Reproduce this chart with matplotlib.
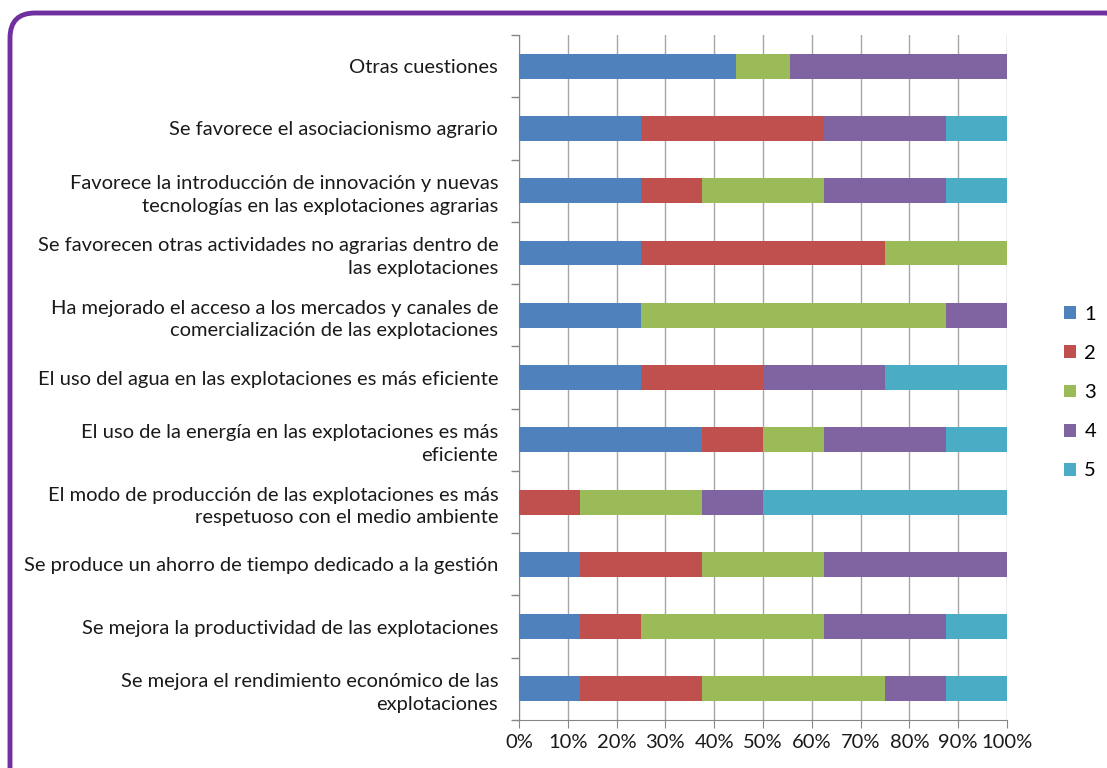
import matplotlib

matplotlib.use("Agg")

import matplotlib.pyplot as plt
from matplotlib.patches import FancyBboxPatch
from matplotlib.ticker import PercentFormatter, FixedLocator

plt.rcParams["font.family"] = ["Lato", "DejaVu Sans"]

# de abajo hacia arriba
categorias = [
    "Se mejora el rendimiento económico de las\nexplotaciones",
    "Se mejora la productividad de las explotaciones",
    "Se produce un ahorro de tiempo dedicado a la gestión",
    "El modo de producción de las explotaciones es más\nrespetuoso con el medio ambiente",
    "El uso de la energía en las explotaciones es más\neficiente",
    "El uso del agua en las explotaciones es más eficiente",
    "Ha mejorado el acceso a los mercados y canales de\ncomercialización de las explotaciones",
    "Se favorecen otras actividades no agrarias dentro de\nlas explotaciones",
    "Favorece la introducción de innovación y nuevas\ntecnologías en las explotaciones agrarias",
    "Se favorece el asociacionismo agrario",
    "Otras cuestiones",
]

# número de respuestas por valoración (1..5)
v1 = [1, 1, 1, 0, 3, 2, 2, 2, 2, 2, 4]
v2 = [2, 1, 2, 1, 1, 2, 0, 4, 1, 3, 0]
v3 = [3, 3, 2, 2, 1, 0, 5, 2, 2, 0, 1]
v4 = [1, 2, 3, 1, 2, 2, 1, 0, 2, 2, 4]
v5 = [1, 1, 0, 4, 1, 2, 0, 0, 1, 1, 0]

series = [v1, v2, v3, v4, v5]
nombres = ["1", "2", "3", "4", "5"]
colores = ["#4F81BD", "#C0504D", "#9BBB59", "#8064A2", "#4BACC6"]

totales = [sum(c) for c in zip(*series)]

fig = plt.figure(figsize=(11.07, 7.68), dpi=100)
ax = fig.add_axes([519 / 1107, 1 - 720 / 768, 488 / 1107, 685 / 768])

y = list(range(len(categorias)))
izq = [0.0] * len(categorias)
for vals, nombre, color in zip(series, nombres, colores):
    pct = [v / t * 100 for v, t in zip(vals, totales)]
    ax.barh(y, pct, left=izq, height=0.4, color=color, label=nombre, zorder=3)
    izq = [a + b for a, b in zip(izq, pct)]

ax.set_xlim(0, 100)
ax.set_ylim(-0.5, len(categorias) - 0.5)
ax.set_xticks(range(0, 101, 10))
ax.xaxis.set_major_formatter(PercentFormatter(decimals=0))
ax.set_yticks(y)
ax.set_yticklabels(categorias, fontsize=14.5, linespacing=1.4)
ax.yaxis.set_minor_locator(FixedLocator([i - 0.5 for i in range(len(categorias) + 1)]))
ax.tick_params(axis="y", which="major", length=0, pad=15)
ax.tick_params(axis="y", which="minor", length=6, color="#868686", width=1)
ax.tick_params(axis="x", length=6, color="#868686", labelsize=14.5, pad=4)
ax.grid(axis="x", color="#A6A6A6", linewidth=1, zorder=0)
for lado in ["top", "right"]:
    ax.spines[lado].set_visible(False)
for lado in ["left", "bottom"]:
    ax.spines[lado].set_color("#868686")
for t in ax.get_yticklabels() + ax.get_xticklabels():
    t.set_color("#1a1a1a")

ax.legend(
    loc="center left",
    bbox_to_anchor=(1.08, 0.478),
    frameon=False,
    fontsize=14.5,
    handlelength=0.6,
    handleheight=0.6,
    handletextpad=0.4,
    labelspacing=1.1,
)

# marco redondeado (en pulgadas para que las esquinas sean circulares)
marco = FancyBboxPatch(
    (0.10, -0.5),
    11.22,
    7.68 - 0.13 + 0.5,
    boxstyle="round,pad=0,rounding_size=0.25",
    transform=fig.dpi_scale_trans,
    fill=False,
    edgecolor="#7030A0",
    linewidth=3.5,
    clip_on=False,
)
fig.patches.append(marco)

fig.savefig("out.png", dpi=100)
